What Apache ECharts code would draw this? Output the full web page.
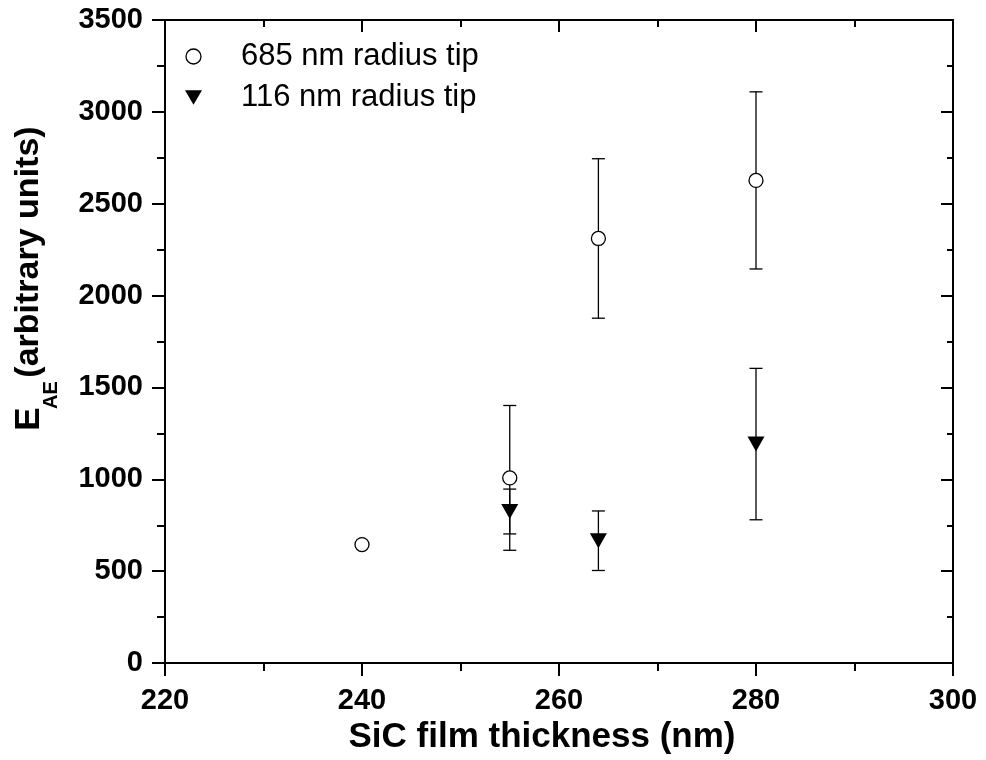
<!DOCTYPE html>
<html>
<head>
<meta charset="utf-8">
<style>
html,body{margin:0;padding:0;background:#fff;}
#chart{width:986px;height:760px;}
</style>
<script src="https://cdn.jsdelivr.net/npm/echarts@6/dist/echarts.min.js"></script>
</head>
<body>
<div id="chart"></div>
<script>
// ---- data ----
const seriesNames = ['685 nm radius tip', '116 nm radius tip'];
const thickness685 = [240, 255, 264, 280];
const eae685 = [645, 1008, 2311, 2627];
const err685 = [0, 394, 434, 482];
const thickness116 = [255, 264, 280];
const eae116 = [825, 666, 1192];
const err116 = [122, 162, 412];
const xTicks = [220, 240, 260, 280, 300];
const yTicks = [0, 500, 1000, 1500, 2000, 2500, 3000, 3500];

const FONT = '"Liberation Sans", Arial, sans-serif';
const pts685 = thickness685.map((x, i) => [x, eae685[i]]);
const pts116 = thickness116.map((x, i) => [x, eae116[i]]);
const bars685 = thickness685.map((x, i) => [x, eae685[i] - err685[i], eae685[i] + err685[i]]).filter((d, i) => err685[i] > 0);
const bars116 = thickness116.map((x, i) => [x, eae116[i] - err116[i], eae116[i] + err116[i]]);

function errRender(params, api) {
  const x = api.value(0), lo = api.value(1), hi = api.value(2);
  const a = api.coord([x, hi]);
  const b = api.coord([x, lo]);
  const cw = 6.5;
  const st = { stroke: '#000', lineWidth: 1.3 };
  return {
    type: 'group',
    children: [
      { type: 'line', shape: { x1: a[0], y1: a[1], x2: b[0], y2: b[1] }, style: st },
      { type: 'line', shape: { x1: a[0] - cw, y1: a[1], x2: a[0] + cw, y2: a[1] }, style: st },
      { type: 'line', shape: { x1: b[0] - cw, y1: b[1], x2: b[0] + cw, y2: b[1] }, style: st }
    ]
  };
}

const triPath = 'path://M0,0 L20,0 L10,17 Z';
const axisLineStyle = { color: '#000', width: 2 };
const plain = v => String(v);

const option = {
  animation: false,
  backgroundColor: '#fff',
  grid: { left: 165, right: 33, top: 20, bottom: 95, containLabel: false },
  legend: {
    orient: 'vertical',
    left: 180,
    top: 36,
    itemWidth: 17,
    itemHeight: 15,
    itemGap: 10,
    selectedMode: false,
    textStyle: { fontFamily: FONT, fontSize: 31, color: '#000', padding: [0, 0, 0, 34] },
    data: [
      { name: seriesNames[0], icon: 'circle', itemStyle: { color: '#fff', borderColor: '#000', borderWidth: 1.3 } },
      { name: seriesNames[1], icon: triPath, itemStyle: { color: '#000', borderWidth: 0 } }
    ]
  },
  xAxis: [
    {
      type: 'value', min: xTicks[0], max: xTicks[xTicks.length - 1], interval: 20, position: 'bottom',
      axisLine: { show: true, onZero: false, lineStyle: axisLineStyle },
      axisTick: { show: true, inside: false, length: 13, lineStyle: { color: '#000', width: 2 } },
      minorTick: { show: true, splitNumber: 2, length: 8, lineStyle: { color: '#000', width: 2 } },
      splitLine: { show: false },
      axisLabel: { margin: 23, color: '#000', fontFamily: FONT, fontSize: 29, fontWeight: 'bold', formatter: plain },
      name: 'SiC film thickness (nm)', nameLocation: 'middle', nameGap: 52,
      nameTextStyle: { fontFamily: FONT, fontSize: 35, fontWeight: 'bold', color: '#000', padding: [0, 34, 0, 0] }
    },
    {
      type: 'value', min: xTicks[0], max: xTicks[xTicks.length - 1], interval: 20, position: 'top',
      axisLine: { show: true, onZero: false, lineStyle: axisLineStyle },
      axisTick: { show: true, inside: true, length: 12, lineStyle: { color: '#000', width: 2 } },
      minorTick: { show: true, splitNumber: 2, length: 7, lineStyle: { color: '#000', width: 2 } },
      splitLine: { show: false },
      axisLabel: { show: false }
    }
  ],
  yAxis: [
    {
      type: 'value', min: yTicks[0], max: yTicks[yTicks.length - 1], interval: 500, position: 'left',
      axisLine: { show: true, onZero: false, lineStyle: axisLineStyle },
      axisTick: { show: true, inside: false, length: 13, lineStyle: { color: '#000', width: 2 } },
      minorTick: { show: true, splitNumber: 2, length: 8, lineStyle: { color: '#000', width: 2 } },
      splitLine: { show: false },
      axisLabel: { margin: 22, color: '#000', fontFamily: FONT, fontSize: 29, fontWeight: 'bold', formatter: plain }
    },
    {
      type: 'value', min: yTicks[0], max: yTicks[yTicks.length - 1], interval: 500, position: 'right',
      axisLine: { show: true, onZero: false, lineStyle: axisLineStyle },
      axisTick: { show: true, inside: true, length: 12, lineStyle: { color: '#000', width: 2 } },
      minorTick: { show: true, splitNumber: 2, length: 6, lineStyle: { color: '#000', width: 2 } },
      splitLine: { show: false },
      axisLabel: { show: false }
    }
  ],
  graphic: [
    { type: 'text', x: 29, y: 419, rotation: Math.PI / 2,
      style: { text: 'E', fontFamily: FONT, fontSize: 35, fontWeight: 'bold', fill: '#000', align: 'center', verticalAlign: 'middle' } },
    { type: 'text', x: 51, y: 395, rotation: Math.PI / 2,
      style: { text: 'AE', fontFamily: FONT, fontSize: 20, fontWeight: 'bold', fill: '#000', align: 'center', verticalAlign: 'middle' } },
    { type: 'text', x: 29, y: 252, rotation: Math.PI / 2,
      style: { text: '(arbitrary units)', fontFamily: FONT, fontSize: 34, fontWeight: 'bold', fill: '#000', align: 'center', verticalAlign: 'middle' } }
  ],
  series: [
    { type: 'custom', renderItem: errRender, data: bars685, z: 2, silent: true },
    { type: 'custom', renderItem: errRender, data: bars116, z: 2, silent: true },
    {
      name: seriesNames[0], type: 'scatter', data: pts685, z: 5,
      symbol: 'circle', symbolSize: 14,
      itemStyle: { color: '#fff', borderColor: '#000', borderWidth: 1.3, opacity: 1 }
    },
    {
      name: seriesNames[1], type: 'scatter', data: pts116, z: 5,
      symbol: triPath, symbolSize: [17, 15],
      itemStyle: { color: '#000', opacity: 1 }
    }
  ]
};

const chart = echarts.init(document.getElementById('chart'), null, { renderer: 'canvas' });
chart.setOption(option);
</script>
</body>
</html>
